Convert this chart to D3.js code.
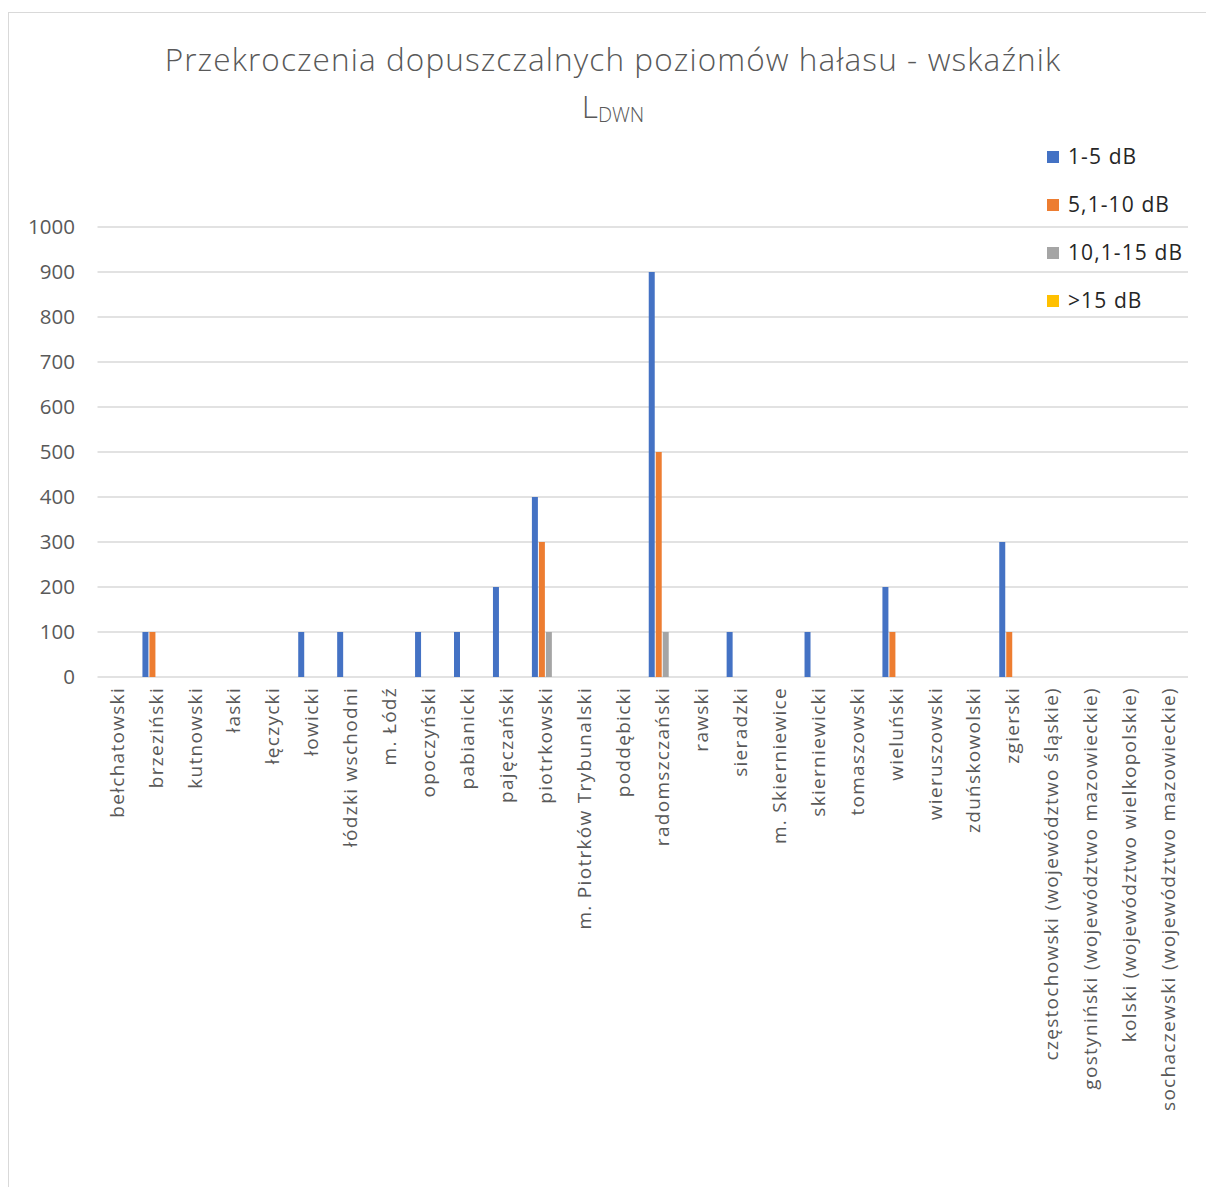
<!DOCTYPE html>
<html lang="pl">
<head>
<meta charset="utf-8">
<script src="https://cdn.jsdelivr.net/npm/d3@7"></script>
<style>
  html, body { margin: 0; padding: 0; background: #fff; }
  svg { display: block; font-family: "Open Sans", "Noto Sans", sans-serif; }
</style>
</head>
<body>
<svg id="chart" width="1206" height="1187"></svg>
<script>
// Powiaty (districts) on the category axis
const categories = [
  "bełchatowski", "brzeziński", "kutnowski", "łaski", "łęczycki", "łowicki",
  "łódzki wschodni", "m. Łódź", "opoczyński", "pabianicki", "pajęczański",
  "piotrkowski", "m. Piotrków Trybunalski", "poddębicki", "radomszczański",
  "rawski", "sieradzki", "m. Skierniewice", "skierniewicki", "tomaszowski",
  "wieluński", "wieruszowski", "zduńskowolski", "zgierski",
  "częstochowski (województwo śląskie)", "gostyniński (województwo mazowieckie)",
  "kolski (województwo wielkopolskie)", "sochaczewski (województwo mazowieckie)"
];

// Exceedance classes
const seriesNames = ["1-5 dB", "5,1-10 dB", "10,1-15 dB", ">15 dB"];
const seriesColors = ["#4472C4", "#ED7D31", "#A5A5A5", "#FFC000"];

// Values per class, in category order
const s1to5 = [0, 100, 0, 0, 0, 100, 100, 0, 100, 100, 200, 400, 0, 0, 900, 0, 100, 0, 100, 0, 200, 0, 0, 300, 0, 0, 0, 0];
const s5to10 = [0, 100, 0, 0, 0, 0, 0, 0, 0, 0, 0, 300, 0, 0, 500, 0, 0, 0, 0, 0, 100, 0, 0, 100, 0, 0, 0, 0];
const s10to15 = [0, 0, 0, 0, 0, 0, 0, 0, 0, 0, 0, 100, 0, 0, 100, 0, 0, 0, 0, 0, 0, 0, 0, 0, 0, 0, 0, 0];
const sOver15 = [0, 0, 0, 0, 0, 0, 0, 0, 0, 0, 0, 0, 0, 0, 0, 0, 0, 0, 0, 0, 0, 0, 0, 0, 0, 0, 0, 0];

const yTicks = [0, 100, 200, 300, 400, 500, 600, 700, 800, 900, 1000];

const seriesValues = [s1to5, s5to10, s10to15, sOver15];

const svg = d3.select("#chart");
const W = 1206, H = 1187;

// chart frame
svg.append("rect")
  .attr("x", 8.5).attr("y", 12.5)
  .attr("width", W - 8).attr("height", H - 12)
  .attr("fill", "#fff").attr("stroke", "#d9d9d9").attr("stroke-width", 1);

const plot = { left: 97.5, right: 1188, top: 227, bottom: 677 };

const x = d3.scaleBand()
  .domain(categories)
  .range([plot.left, plot.right])
  .paddingInner(0.282)
  .paddingOuter(0.141);

const x1 = d3.scaleBand()
  .domain(d3.range(seriesNames.length))
  .range([0, x.bandwidth()]);

const y = d3.scaleLinear().domain([0, 1000]).range([plot.bottom, plot.top]);

// gridlines
svg.append("g")
  .selectAll("line")
  .data(yTicks)
  .join("line")
  .attr("x1", plot.left).attr("x2", plot.right)
  .attr("y1", d => y(d)).attr("y2", d => y(d))
  .attr("stroke", "#d9d9d9").attr("stroke-width", 1.5);

// y axis labels
const yAxis = d3.axisLeft(y).tickValues(yTicks).tickFormat(d3.format("d")).tickSize(0).tickPadding(0);
const gy = svg.append("g").attr("transform", `translate(75,0)`).call(yAxis);
gy.select(".domain").remove();
gy.selectAll("text")
  .attr("fill", "#595959")
  .style("font-size", "20.5px")
  .style("font-family", "'Open Sans', sans-serif");

// bars
const groups = svg.append("g")
  .selectAll("g")
  .data(categories)
  .join("g")
  .attr("transform", d => `translate(${x(d)},0)`);

groups.selectAll("rect")
  .data((d, i) => seriesValues.map((vals, s) => ({ s, v: vals[i] })))
  .join("rect")
  .filter(d => d.v > 0)
  .attr("x", d => x1(d.s) + 0.5)
  .attr("width", x1.bandwidth() - 1)
  .attr("y", d => y(d.v))
  .attr("height", d => y(0) - y(d.v))
  .attr("fill", d => seriesColors[d.s]);

// category labels (rotated)
const xAxis = d3.axisBottom(x).tickSize(0).tickPadding(0);
const gx = svg.append("g").attr("transform", `translate(0,${plot.bottom + 10})`).call(xAxis);
gx.select(".domain").remove();
gx.selectAll("text")
  .attr("fill", "#595959")
  .style("font-size", "19px")
  .style("letter-spacing", "1.3px")
  .style("font-family", "'Open Sans', sans-serif")
  .attr("text-anchor", "end")
  .attr("dy", "0.35em")
  .attr("transform", "rotate(-90)")
  .attr("x", 0).attr("y", 0);

// title
svg.append("text")
  .attr("x", 613).attr("y", 71)
  .attr("text-anchor", "middle")
  .attr("fill", "#595959")
  .style("font-size", "31.5px")
  .style("font-weight", 300)
  .style("letter-spacing", "1.1px")
  .text("Przekroczenia dopuszczalnych poziomów hałasu - wskaźnik");

const sub = svg.append("text")
  .attr("x", 613).attr("y", 118)
  .attr("text-anchor", "middle")
  .attr("fill", "#595959")
  .style("font-size", "31.5px")
  .style("font-weight", 300);
sub.append("tspan").text("L");
sub.append("tspan").attr("dy", 4).style("font-size", "20px").text("DWN");

// legend
const legend = svg.append("g")
  .selectAll("g")
  .data(seriesNames)
  .join("g")
  .attr("transform", (d, i) => `translate(1047,${157 + i * 48})`);
legend.append("rect")
  .attr("x", 0).attr("y", -6).attr("width", 12).attr("height", 12)
  .attr("fill", (d, i) => seriesColors[i]);
legend.append("text")
  .attr("x", 21).attr("y", 0).attr("dy", "0.35em")
  .attr("fill", "#262626")
  .style("font-size", "21px")
  .style("letter-spacing", "1.1px")
  .text(d => d);
</script>
</body>
</html>
